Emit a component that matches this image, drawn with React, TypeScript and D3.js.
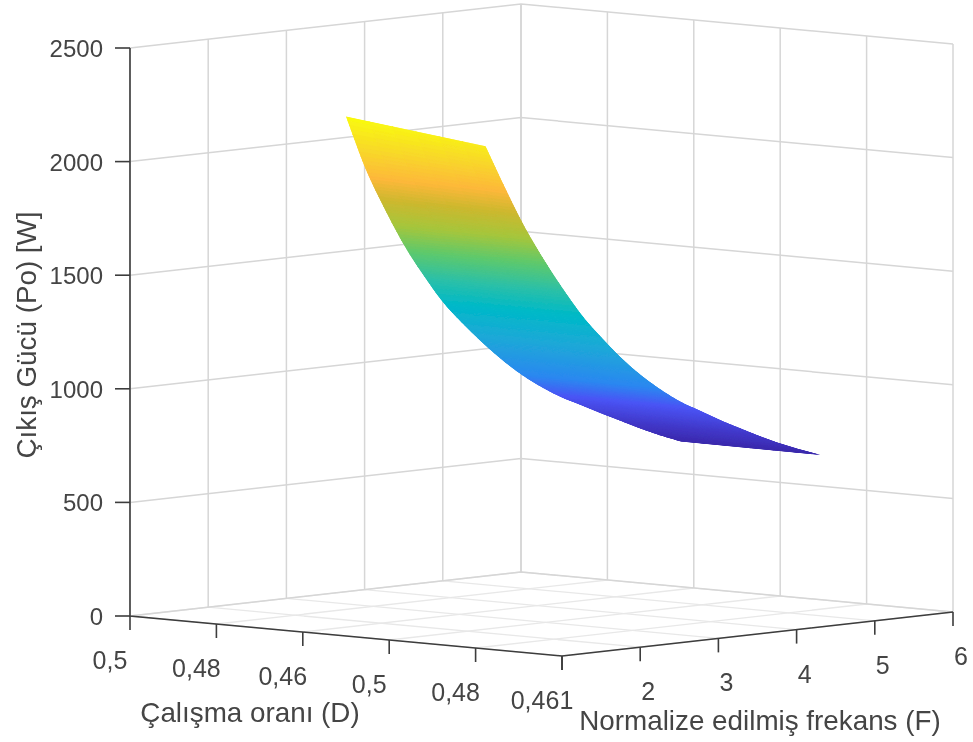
import React from "react";
import * as d3 from "d3";

const W = 973;
const H = 742;

// Axis ticks and the labels as printed on the figure
const dTicks = [0.5, 0.4922, 0.4844, 0.4766, 0.4688, 0.461];
const dTickLabels = ["0,5", "0,48", "0,46", "0,5", "0,48", "0,461"];
const fTicks = [1, 2, 3, 4, 5, 6];
const fTickLabels = ["", "2", "3", "4", "5", "6"];
const pTicks = [0, 500, 1000, 1500, 2000, 2500];

// Surface: output power along both D edges for each F
const surfaceD = [0.4805, 0.4679];
const surfaceF = [1, 1.25, 1.5, 1.75, 2, 2.25, 2.5, 2.75, 3, 3.25, 3.5, 3.75, 4, 4.25, 4.5, 4.75, 5, 5.285];
const powerAtDHigh = [2286, 2047, 1857, 1687, 1545, 1417, 1315, 1222, 1137, 1062, 999, 945, 901, 856, 813, 770, 730, 690];
const powerAtDLow = [2213, 2019, 1838, 1682, 1541, 1412, 1306, 1208, 1124, 1052, 990, 941, 891, 846, 802, 761, 725, 688];

// Colours seen on the surface, low to high power
const colorStops = [690, 800, 950, 1060, 1250, 1410, 1530, 1660, 1780, 1900, 2000, 2130, 2285];
const colorValues = ["#3b2aad", "#4238c8", "#4a55f5", "#2b88f0", "#1ea8d8", "#00b9c8", "#2bc0a8", "#5ec96c", "#a5c63c", "#cdb82e", "#fdb83a", "#f8d82a", "#f9fb0e"];

// Scales for each axis, 0..1 along the box edge
const dScale = d3.scaleLinear().domain([0.5, 0.461]).range([0, 1]);
const fScale = d3.scaleLinear().domain([1, 6]).range([0, 1]);
const pScale = d3.scaleLinear().domain([0, 2500]).range([0, 568]);
const colorScale = d3
  .scaleLinear<string>()
  .domain(colorStops)
  .range(colorValues)
  .interpolate(d3.interpolateRgb);

// Oblique projection of the MATLAB 3D box
const project = (d: number, f: number, p: number): [number, number] => {
  const u = dScale(d);
  const v = fScale(f);
  return [130 + 432 * u + 391 * v, 616 + 40 * u - 44 * v - pScale(p)];
};

const toPath = d3.line();

const gridColor = "#d6d6d6";
const floorColor = "#e8e8e8";
const axisColor = "#3c3c3c";
const textColor = "#444444";
const fontFamily = "'Liberation Sans', Arial, sans-serif";

// Catmull-Rom between two table rows, only to round off the drawn edge.
// The ends are extrapolated, otherwise the corners of the surface get rounded
function smooth(v: number[], i: number, t: number) {
  const p1 = v[i];
  const p2 = v[Math.min(i + 1, v.length - 1)];
  const p0 = i > 0 ? v[i - 1] : 2 * p1 - p2;
  const p3 = i + 2 < v.length ? v[i + 2] : 2 * p2 - p1;
  return (
    0.5 *
    (2 * p1 +
      (p2 - p0) * t +
      (2 * p0 - 5 * p1 + 4 * p2 - p3) * t * t +
      (3 * p1 - p0 - 3 * p2 + p3) * t * t * t)
  );
}

const rowSteps = 12;
const colSteps = 6;

const cornerAt = (i: number, r: number, c: number) => {
  const t = r / rowSteps;
  const s = c / colSteps;
  const next = Math.min(i + 1, surfaceF.length - 1);
  const hi = smooth(powerAtDHigh, i, t);
  const lo = smooth(powerAtDLow, i, t);
  return {
    f: d3.interpolateNumber(surfaceF[i], surfaceF[next])(t),
    d: d3.interpolateNumber(surfaceD[0], surfaceD[1])(s),
    p: d3.interpolateNumber(hi, lo)(s),
  };
};

// Small patches so the colour runs smoothly with power
function surfacePatches() {
  const patches: { d: string; fill: string }[] = [];
  for (let i = 0; i < surfaceF.length - 1; i++) {
    for (let r = 0; r < rowSteps; r++) {
      for (let c = 0; c < colSteps; c++) {
        const q = [cornerAt(i, r, c), cornerAt(i, r, c + 1), cornerAt(i, r + 1, c + 1), cornerAt(i, r + 1, c)];
        const pts = q.map((k) => project(k.d, k.f, k.p));
        patches.push({
          d: toPath(pts) + "Z",
          fill: colorScale(d3.mean(q, (k) => k.p) as number),
        });
      }
    }
  }
  return patches;
}

// Outline of the whole surface, used as a clip so the patch strokes stay inside
function surfaceOutline() {
  const left: [number, number][] = [];
  const right: [number, number][] = [];
  for (let i = 0; i < surfaceF.length - 1; i++) {
    for (let r = 0; r <= rowSteps; r++) {
      const a = cornerAt(i, r, 0);
      const b = cornerAt(i, r, colSteps);
      left.push(project(a.d, a.f, a.p));
      right.push(project(b.d, b.f, b.p));
    }
  }
  return toPath(left.concat(right.reverse())) + "Z";
}

export default function App() {
  const dMin = dTicks[0];
  const dMax = dTicks[dTicks.length - 1];
  const fMin = fTicks[0];
  const fMax = fTicks[fTicks.length - 1];
  const pMax = pTicks[pTicks.length - 1];
  const patches = surfacePatches();

  const gridLines: [number, number][][] = [];
  // Left wall (D fixed at its start) and right wall (F fixed at its end)
  pTicks.forEach((p) => {
    gridLines.push([project(dMin, fMin, p), project(dMin, fMax, p), project(dMax, fMax, p)]);
  });
  fTicks.forEach((f) => gridLines.push([project(dMin, f, 0), project(dMin, f, pMax)]));
  dTicks.forEach((d) => gridLines.push([project(d, fMax, 0), project(d, fMax, pMax)]));

  const floorLines: [number, number][][] = [];
  dTicks.forEach((d) => floorLines.push([project(d, fMin, 0), project(d, fMax, 0)]));
  fTicks.forEach((f) => floorLines.push([project(dMin, f, 0), project(dMax, f, 0)]));

  const tickLen = 14;

  return (
    <svg
      width={W}
      height={H}
      viewBox={`0 0 ${W} ${H}`}
      style={{ position: "absolute", left: 0, top: 0, background: "#fff" }}
      fontFamily={fontFamily}
    >
      <defs>
        <filter id="soft" x="0" y="0" width="100%" height="100%" filterUnits="userSpaceOnUse">
          <feGaussianBlur stdDeviation="0.7" />
        </filter>
        <clipPath id="surface">
          <path d={surfaceOutline()} />
        </clipPath>
      </defs>
      <g filter="url(#soft)">
        {floorLines.map((l, i) => (
          <path key={i} d={toPath(l) as string} fill="none" stroke={floorColor} strokeWidth={1.3} />
        ))}
        {gridLines.map((l, i) => (
          <path key={i} d={toPath(l) as string} fill="none" stroke={gridColor} strokeWidth={1.5} />
        ))}

        <g clipPath="url(#surface)">
          {patches.map((s, i) => (
            <path key={i} d={s.d} fill={s.fill} stroke={s.fill} strokeWidth={1.2} />
          ))}
        </g>

        {/* Axes */}
        <path
          d={toPath([project(dMin, fMin, pMax), project(dMin, fMin, 0), project(dMax, fMin, 0), project(dMax, fMax, 0)]) as string}
          fill="none"
          stroke={axisColor}
          strokeWidth={1.6}
        />
        {pTicks.map((p) => {
          const [x, y] = project(dMin, fMin, p);
          return (
            <g key={p}>
              <line x1={x - 15} x2={x} y1={y} y2={y} stroke={axisColor} strokeWidth={1.6} />
              <text x={x - 27} y={y + 9} textAnchor="end" fontSize={24} fill={textColor}>
                {p}
              </text>
            </g>
          );
        })}
        {dTicks.map((d, i) => {
          const [x, y] = project(d, fMin, 0);
          return (
            <g key={d}>
              <line x1={x} x2={x} y1={y} y2={y + tickLen} stroke={axisColor} strokeWidth={1.6} />
              <text x={x - 20} y={y + 53} textAnchor="middle" fontSize={25} fill={textColor}>
                {dTickLabels[i]}
              </text>
            </g>
          );
        })}
        {fTicks.map((f, i) => {
          const [x, y] = project(dMax, f, 0);
          return (
            <g key={f}>
              <line x1={x} x2={x} y1={y} y2={y + tickLen} stroke={axisColor} strokeWidth={1.6} />
              <text x={x + 8} y={y + 53} textAnchor="middle" fontSize={25} fill={textColor}>
                {fTickLabels[i]}
              </text>
            </g>
          );
        })}

        {/* Axis titles */}
        <text x={250} y={722} textAnchor="middle" fontSize={27.8} fill={textColor}>
          Çalışma oranı (D)
        </text>
        <text x={760} y={730} textAnchor="middle" fontSize={27.8} fill={textColor}>
          Normalize edilmiş frekans (F)
        </text>
        <text
          transform="translate(36,335) rotate(-90)"
          textAnchor="middle"
          fontSize={27.8}
          fill={textColor}
        >
          Çıkış Gücü (Po) [W]
        </text>
      </g>
    </svg>
  );
}
